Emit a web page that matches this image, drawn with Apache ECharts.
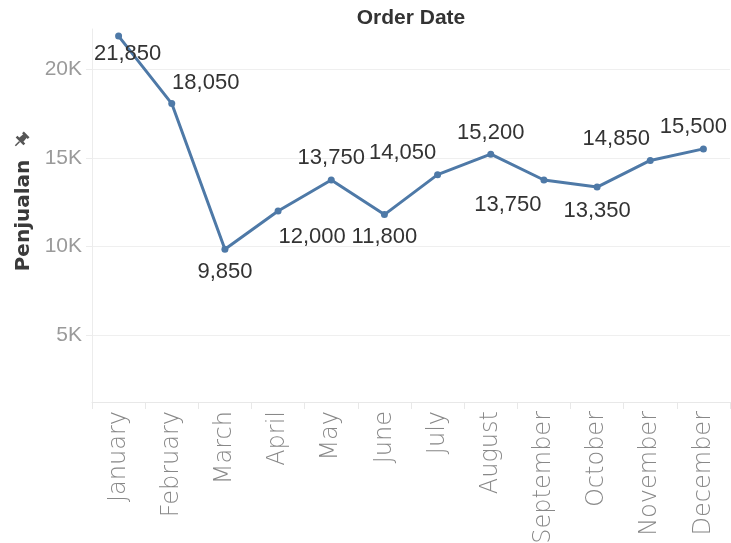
<!DOCTYPE html>
<html>
<head>
<meta charset="utf-8">
<script src="https://cdn.jsdelivr.net/npm/echarts@6/dist/echarts.min.js"></script>
<style>html,body{margin:0;padding:0;background:#fff}#c{width:731px;height:543px}</style>
</head>
<body>
<div id="c"></div>
<script>
var months = ['January','February','March','April','May','June','July','August','September','October','November','December'];
var sales = [21850, 18050, 9850, 12000, 13750, 11800, 14050, 15200, 13750, 13350, 14850, 15500];
var yTicks = [5000, 10000, 15000, 20000];
// label placement relative to each point (style only)
var labelOffsets = [[9,18],[34,-21],[0,23],[34,26],[0,-22],[0,22],[-35,-22],[0,-21],[-36,25],[0,24],[-34,-22],[-10,-22]];

var SANS = "'Liberation Sans', Arial, sans-serif";
var chart = echarts.init(document.getElementById('c'), null, {renderer:'canvas'});
var data = sales.map(function(v, i){
  return {value: v, label: {offset: labelOffsets[i]}};
});
chart.setOption({
  animation: false,
  grid: {left: 92, right: 1, top: 29, bottom: 141, containLabel: false, outerBoundsMode: 'none'},
  xAxis: {
    type: 'category',
    data: months,
    boundaryGap: true,
    axisLine: {show: true, lineStyle: {color: '#e8e8e8', width: 1}},
    axisTick: {show: true, alignWithLabel: false, length: 7, lineStyle: {color: '#e8e8e8'}},
    axisLabel: {rotate: 90, margin: 9, color: '#888888', fontFamily: "'DejaVu Sans', sans-serif", fontWeight: 200, fontSize: 24}
  },
  yAxis: {
    type: 'value',
    min: 1250, max: 22250,
    name: 'Penjualan',
    nameLocation: 'middle',
    nameGap: 52,
    nameRotate: 90,
    nameTextStyle: {color: '#3a3a3a', fontFamily: "'DejaVu Sans', sans-serif", fontWeight: 'bold', fontSize: 20},
    axisLine: {show: true, lineStyle: {color: '#ececec'}},
    axisTick: {show: true, length: 6, lineStyle: {color: '#ececec'}, customValues: yTicks},
    splitLine: {show: true, lineStyle: {color: '#efefef', width: 1}},
    axisLabel: {customValues: yTicks, margin: 10, color: '#9a9a9a', fontFamily: SANS, fontSize: 21,
      formatter: function(v){ return (v/1000) + 'K'; }}
  },
  series: [{
    type: 'line',
    data: data,
    lineStyle: {color: '#4e79a7', width: 3},
    itemStyle: {color: '#4e79a7'},
    symbol: 'circle',
    symbolSize: 7,
    label: {
      show: true,
      position: 'inside',
      align: 'center',
      verticalAlign: 'middle',
      color: '#333333',
      fontFamily: SANS,
      fontSize: 22,
      formatter: function(p){ return p.value.toLocaleString('en-US'); }
    }
  }],
  graphic: [
    {type: 'text', x: 411, y: 18,
     style: {text: 'Order Date', x: 0, y: 0, align: 'center', verticalAlign: 'middle', fill: '#333333',
             font: "bold 21px 'Liberation Sans', Arial, sans-serif"}},
    {type: 'group', x: 21, y: 140, rotation: -Math.PI/4, children: [
      {type: 'rect', shape: {x: -4, y: -8, width: 8, height: 2.5}, style: {fill: '#555'}},
      {type: 'polygon', shape: {points: [[-2.5,-6],[2.5,-6],[3,0],[-3,0]]}, style: {fill: '#555'}},
      {type: 'rect', shape: {x: -5.5, y: -0.5, width: 11, height: 2.5}, style: {fill: '#555'}},
      {type: 'line', shape: {x1: 0, y1: 2, x2: 0, y2: 8}, style: {stroke: '#555', lineWidth: 1.5}}
    ]}
  ]
});
</script>
</body>
</html>
